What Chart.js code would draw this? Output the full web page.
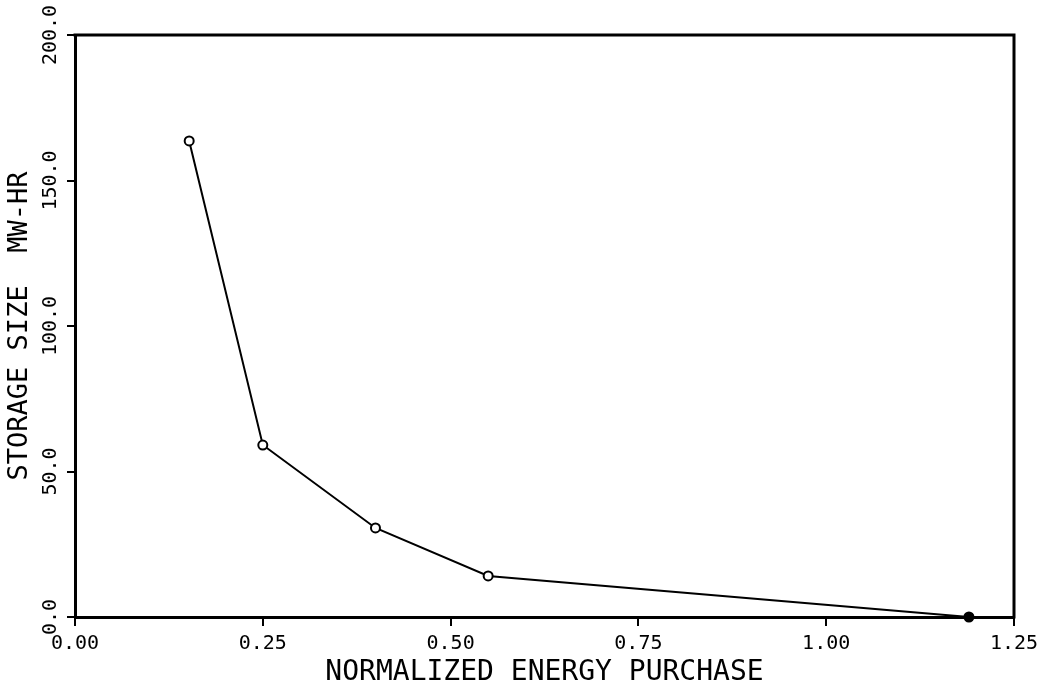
<!DOCTYPE html>
<html>
<head>
<meta charset="utf-8">
<script src="https://cdn.jsdelivr.net/npm/chart.js@4"></script>
<style>
  html, body { margin: 0; padding: 0; background: #fff; }
  #wrap { width: 1042px; height: 692px; }
</style>
</head>
<body>
<div id="wrap"><canvas id="storagechart"></canvas></div>
<script>
// values
var energyPurchase = [0.152, 0.25, 0.40, 0.55, 1.19];
var storageSize = [163.6, 59.1, 30.6, 14.1, 0];
var xTitle = 'NORMALIZED ENERGY PURCHASE';
var yTitle = 'STORAGE SIZE  MW-HR';

var points = [];
for (var i = 0; i < energyPurchase.length; i++) {
    points.push({x: energyPurchase[i], y: storageSize[i]});
}

var monoFont = '"DejaVu Sans Mono", "Liberation Mono", monospace';

// top + right frame lines, and vertical y tick labels
var framePlugin = {
    id: 'frame',
    afterDraw: function(chart) {
        var ctx = chart.ctx;
        var a = chart.chartArea;
        ctx.save();
        ctx.strokeStyle = '#000';
        ctx.lineWidth = 3;
        ctx.beginPath();
        ctx.moveTo(a.left - 1.5, a.top);
        ctx.lineTo(a.right, a.top);
        ctx.lineTo(a.right, a.bottom + 1.5);
        ctx.stroke();

        var yScale = chart.scales.y;
        ctx.fillStyle = '#000';
        ctx.font = '20px ' + monoFont;
        ctx.textAlign = 'center';
        ctx.textBaseline = 'middle';
        yScale.ticks.forEach(function(t) {
            var py = yScale.getPixelForValue(t.value);
            ctx.save();
            ctx.translate(51, py);
            ctx.rotate(-Math.PI / 2);
            ctx.fillText(t.value.toFixed(1), 0, 0);
            ctx.restore();
        });
        ctx.restore();
    }
};

var ctx = document.getElementById('storagechart').getContext('2d');
var chart = new Chart(ctx, {
    type: 'scatter',
    data: {
        datasets: [{
            data: points,
            showLine: true,
            borderColor: '#000',
            borderWidth: 2,
            pointRadius: 4.5,
            pointBorderWidth: 2,
            pointBorderColor: '#000',
            pointBackgroundColor: ['#fff', '#fff', '#fff', '#fff', '#000'],
            clip: false
        }]
    },
    options: {
        responsive: true,
        maintainAspectRatio: false,
        animation: false,
        layout: { padding: { top: 35, right: 28, left: 0, bottom: 0 } },
        plugins: {
            legend: { display: false },
            tooltip: { enabled: false }
        },
        scales: {
            x: {
                type: 'linear',
                min: 0,
                max: 1.25,
                afterFit: function(scale) {
                    scale.height = 75;
                    scale.paddingLeft = 0;
                    scale.paddingRight = 0;
                },
                border: { display: true, color: '#000', width: 3 },
                grid: { drawOnChartArea: false, drawTicks: true, tickLength: 9, color: '#000', lineWidth: 2 },
                ticks: {
                    stepSize: 0.25,
                    padding: 6,
                    color: '#000',
                    font: { family: monoFont, size: 20 },
                    callback: function(v) { return v.toFixed(2); }
                },
                title: {
                    display: true,
                    text: xTitle,
                    color: '#000',
                    padding: { top: 0, bottom: 2 },
                    font: { family: monoFont, size: 28 }
                }
            },
            y: {
                type: 'linear',
                min: 0,
                max: 200,
                afterFit: function(scale) {
                    scale.width = 75;
                    scale.paddingTop = 0;
                    scale.paddingBottom = 0;
                },
                border: { display: true, color: '#000', width: 3 },
                grid: { drawOnChartArea: false, drawTicks: true, tickLength: 8, color: '#000', lineWidth: 2 },
                ticks: {
                    stepSize: 50,
                    color: 'rgba(0,0,0,0)',
                    font: { family: monoFont, size: 20 }
                },
                title: {
                    display: true,
                    text: yTitle,
                    color: '#000',
                    padding: { top: 4, bottom: 0 },
                    font: { family: monoFont, size: 27 }
                }
            }
        }
    },
    plugins: [framePlugin]
});
</script>
</body>
</html>
